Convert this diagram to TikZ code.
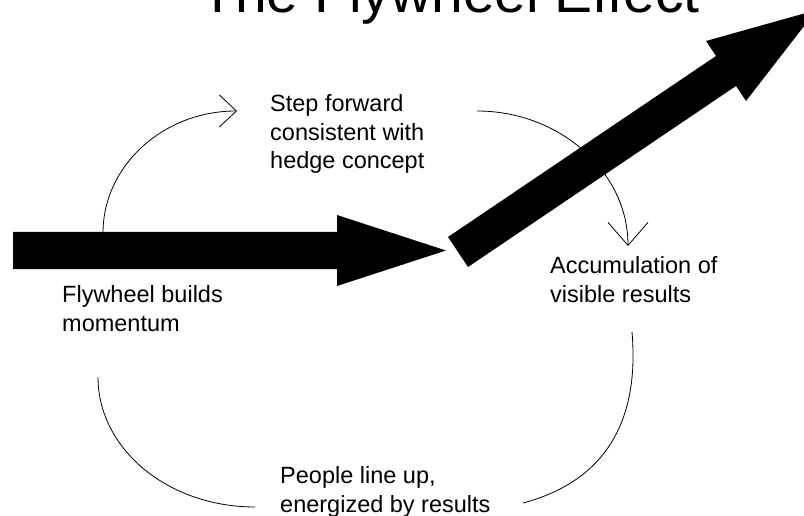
\documentclass[tikz,border=0pt]{standalone}
\usepackage{fontspec}
\setmainfont{Liberation Sans}
\usetikzlibrary{arrows.meta}

\begin{document}
\begin{tikzpicture}[x=1pt,y=-1pt,
  cyc/.style={line width=0.8pt},
  blk/.style={fill=black},
  lbl/.style={font=\fontsize{23.5}{28.5}\selectfont,align=left,anchor=base west,inner sep=0pt}]
\useasboundingbox (0,0) rectangle (804,516);
\clip (0,0) rectangle (804,516);

% title, cut at the top edge
\node[anchor=base west,inner sep=0pt,font=\fontsize{57}{60}\selectfont] (title) at (200,13) {The Flywheel Effect};

% the two block arrows
\fill[blk] (13,232) -- (337,232) -- (337,215) -- (446,250.5) -- (337,286) -- (337,269) -- (13,269) -- cycle;
\fill[blk] (448,237) -- (716,56) -- (706,41) -- (816.5,10) -- (746,101) -- (736,86) -- (468,267) -- cycle;

% labels round the wheel (base = last line)
\node[lbl] (step) at (270,169) {Step forward\\consistent with\\hedge concept};
\node[lbl] (accum) at (550,302) {Accumulation of\\visible results};
\node[lbl] (people) at (280,512) {People line up,\\energized by results};
\node[lbl] (fly) at (62,331) {Flywheel builds\\momentum};

% ends of the four arcs
\coordinate (a1) at (103,233);  \coordinate (b1) at (237,111);
\coordinate (a2) at (477,111);  \coordinate (b2) at (628,246);
\coordinate (a3) at (632,332);  \coordinate (b3) at (523,503);
\coordinate (a4) at (255,507);  \coordinate (b4) at (98,377);

\draw[cyc,-{Straight Barb[length=17pt,width=32pt]}] (a1) .. controls (103,166) and (163,111) .. (b1);
\draw[cyc,-{Straight Barb[length=23pt,width=40pt]}] (a2) .. controls (560,111) and (628,172) .. (b2);
\draw[cyc] (a3) .. controls (640,425) and (602,482) .. (b3);
\draw[cyc] (a4) .. controls (168,507) and (98,449) .. (b4);
\end{tikzpicture}
\end{document}
